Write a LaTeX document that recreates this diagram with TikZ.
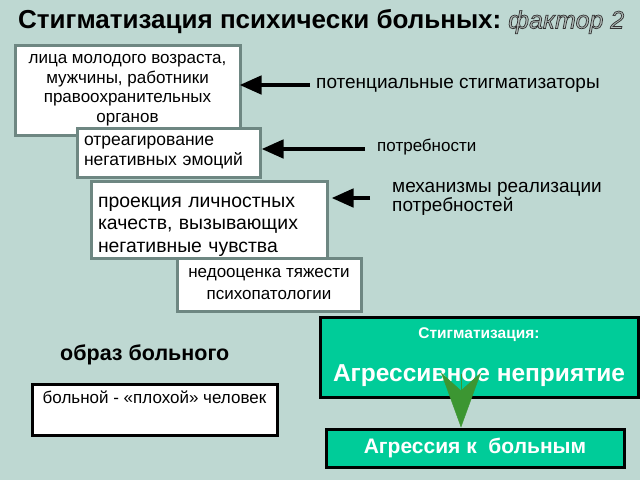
\documentclass[tikz,border=0pt]{standalone}
\usepackage{fontspec}
\setmainfont{Liberation Sans}
\usetikzlibrary{arrows.meta}
\definecolor{bgteal}{RGB}{190,216,210}
\definecolor{boxgrey}{RGB}{110,135,130}
\definecolor{stiggreen}{RGB}{0,204,153}
\definecolor{vgreen}{RGB}{60,150,50}
\definecolor{facfill}{RGB}{175,185,182}
\newcommand{\outlined}[1]{\special{pdf:literal direct 2 Tr 0.7 w 0.2 0.2 0.2 RG}#1\special{pdf:literal direct 0 Tr}}
\tikzset{
    sbox/.style={draw=boxgrey, line width=3pt, fill=white, inner sep=0pt},
    gbox/.style={draw=black, line width=3pt, fill=stiggreen, text=white, font=\bfseries, inner sep=0pt},
    wbox/.style={draw=black, line width=3pt, fill=white, inner sep=0pt},
    lab/.style={anchor=west, inner sep=0pt},
    harrow/.style={line width=4.5pt, -{Triangle[length=22pt,width=18pt]}},
}

\begin{document}
\begin{tikzpicture}[x=1pt, y=-1pt]
    \fill[bgteal] (0,0) rectangle (640,480);
    \node[lab, font=\fontsize{26}{30}\selectfont\bfseries] (title) at (18,22) {Стигматизация психически больных:};
    \node[lab, text=facfill, font=\fontsize{25}{30}\selectfont\itshape] (factor) at (508,22)
        {\outlined{фактор 2}};

    \node[sbox, minimum width=225, minimum height=90, align=center,
        font=\fontsize{17}{19.5}\selectfont] (young) at (127.5,90)
        {лица молодого возраста,\\мужчины, работники\\правоохранительных\\органов};
    \node[sbox, minimum width=183, minimum height=49, text width=169, align=left,
        font=\fontsize{17.5}{20}\selectfont] (vent) at (168.5,152.5)
        {отреагирование\\негативных эмоций};
    \node[sbox, minimum width=236, text height=26, text depth=51, text width=222, align=left,
        font=\fontsize{19.4}{22.5}\selectfont] (proj) at (209,219.5)
        {проекция личностных\\качеств, вызывающих\\негативные чувства};
    \node[sbox, minimum width=184, minimum height=53, align=center,
        font=\fontsize{17}{22}\selectfont] (under) at (269,284.5)
        {недооценка тяжести\\психопатологии};

    \node[lab, font=\fontsize{19}{22}\selectfont] (pot) at (316,85) {потенциальные стигматизаторы};
    \node[lab, font=\fontsize{17}{20}\selectfont] (need) at (377,147) {потребности};
    \node[lab, align=left, font=\fontsize{19}{17}\selectfont] (mech) at (392,199)
        {механизмы реализации\\потребностей};

    \draw[harrow, shorten <=6pt, shorten >=-2pt] (pot.west) -- (pot.west -| young.east);
    \draw[harrow, shorten <=12pt] ([yshift=-2pt]need.west) -- ([yshift=-2pt]need.west -| vent.east);
    \draw[harrow, shorten <=22pt, shorten >=3pt] ([yshift=1pt]mech.west) -- ([yshift=1pt]mech.west -| proj.east);

    \node[lab, font=\fontsize{21.5}{24}\selectfont\bfseries] (image) at (60,355) {образ больного};
    \node[wbox, minimum width=245, text height=19, text depth=32, align=center,
        font=\fontsize{17}{19}\selectfont] (bad) at (154.5,409.5)
        {больной - «плохой» человек};

    \node[gbox, minimum width=318, minimum height=80, align=center] (stig) at (479,357)
        {\fontsize{15.5}{17}\selectfont Стигматизация:\\[22pt]\fontsize{24.5}{28}\selectfont Агрессивное неприятие};
    \node[gbox, minimum width=298, minimum height=38, font=\fontsize{21}{24}\selectfont\bfseries] (aggr) at (475,448)
        {Агрессия к\ \ больным};
    \coordinate (vtop) at (461,374);
    \draw[vgreen, line width=0.5pt, -{Stealth[length=55pt,width=40pt,inset=18pt]}] (vtop) -- (vtop |- aggr.north);
\end{tikzpicture}
\end{document}
